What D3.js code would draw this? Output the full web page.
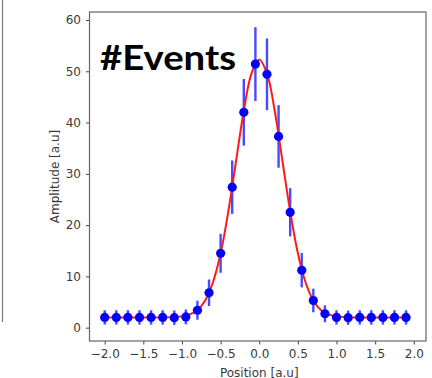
<!DOCTYPE html>
<html>
<head>
<meta charset="utf-8">
<script src="https://cdn.jsdelivr.net/npm/d3@7"></script>
<style>
  body { margin: 0; background: #fff; }
  svg { display: block; }
</style>
</head>
<body>
<div id="chart"></div>
<script>
// measured points
const positions = [-2.0, -1.85, -1.7, -1.55, -1.4, -1.25, -1.1, -0.95, -0.8, -0.65, -0.5, -0.35, -0.2, -0.05,
  0.1, 0.25, 0.4, 0.55, 0.7, 0.85, 1.0, 1.15, 1.3, 1.45, 1.6, 1.75, 1.9];
const amplitudes = [2.0, 2.0, 2.0, 2.0, 2.0, 2.0, 1.95, 2.1, 3.4, 6.8, 14.5, 27.4, 42.0, 51.4,
  49.4, 37.3, 22.5, 11.2, 5.3, 2.7, 2.0, 1.95, 2.0, 2.0, 2.0, 2.0, 2.0];
const errors = [1.4, 1.4, 1.4, 1.4, 1.4, 1.4, 1.4, 1.45, 1.85, 2.6, 3.8, 5.2, 6.5, 7.2,
  7.0, 6.1, 4.7, 3.35, 2.3, 1.65, 1.4, 1.4, 1.4, 1.4, 1.4, 1.4, 1.4];

// fitted curve
const fitX = [-2.0, -1.5, -1.2, -1.0, -0.9, -0.8, -0.7, -0.6, -0.5, -0.4, -0.3, -0.2, -0.1, 0.0,
  0.1, 0.2, 0.3, 0.4, 0.5, 0.6, 0.7, 0.8, 0.9, 1.0, 1.2, 1.5, 1.9];
const fitY = [2.0, 2.0, 2.0, 2.2, 2.6, 3.4, 5.3, 8.8, 14.5, 22.7, 32.5, 42.3, 49.6, 52.3,
  49.6, 42.3, 32.5, 22.7, 14.5, 8.8, 5.3, 3.4, 2.6, 2.2, 2.0, 2.0, 2.0];

const xTicks = [-2.0, -1.5, -1.0, -0.5, 0.0, 0.5, 1.0, 1.5, 2.0];
const yTicks = [0, 10, 20, 30, 40, 50, 60];

const margin = { top: 12, right: 6, bottom: 37, left: 89.5 };
const width = 432 - margin.left - margin.right;
const height = 378 - margin.top - margin.bottom;

const root = d3.select("#chart")
  .append("svg")
  .attr("width", 432)
  .attr("height", 378)
  .style("font-family", "DejaVu Sans, sans-serif");

// bit of a neighbouring panel cut off on the left
root.append("line")
  .attr("x1", 2.5).attr("x2", 2.5)
  .attr("y1", 0).attr("y2", 322)
  .attr("stroke", "#777")
  .attr("stroke-width", 1.2);

const svg = root.append("g")
  .attr("transform", "translate(" + margin.left + "," + margin.top + ")");

const xScale = d3.scaleLinear()
  .domain([-2.197, 2.158])
  .range([0, width]);

const yScale = d3.scaleLinear()
  .domain([-2.6, 61.56])
  .range([height, 0]);

// axes
const xAxis = svg.append("g")
  .attr("transform", "translate(0," + height + ")")
  .call(d3.axisBottom(xScale).tickValues(xTicks).tickFormat(d3.format(".1f")).tickSize(3.5).tickPadding(4.5));

const yAxis = svg.append("g")
  .call(d3.axisLeft(yScale).tickValues(yTicks).tickSize(3.5).tickPadding(5));

[xAxis, yAxis].forEach(a => {
  a.select(".domain").remove();
  a.selectAll("line").attr("stroke", "#444");
  a.selectAll("text")
    .attr("fill", "#3a3a3a")
    .style("font-size", "12px")
    .style("font-family", "DejaVu Sans, sans-serif");
});
xAxis.selectAll("text").text(d => d3.format(".1f")(d).replace("-", "\u2212"));

// frame
svg.append("rect")
  .attr("width", width)
  .attr("height", height)
  .attr("fill", "none")
  .attr("stroke", "#666")
  .attr("stroke-width", 1.2);

// error bars
svg.selectAll(".err")
  .data(positions)
  .enter()
  .append("line")
  .attr("class", "err")
  .attr("x1", d => xScale(d))
  .attr("x2", d => xScale(d))
  .attr("y1", (d, i) => yScale(amplitudes[i] - errors[i]))
  .attr("y2", (d, i) => yScale(amplitudes[i] + errors[i]))
  .attr("stroke", "#4a4aff")
  .attr("stroke-width", 2.4);

// fit curve
const line = d3.line()
  .x((d, i) => xScale(fitX[i]))
  .y(d => yScale(d))
  .curve(d3.curveCatmullRom.alpha(0.5));

svg.append("path")
  .datum(fitY)
  .attr("d", line)
  .attr("fill", "none")
  .attr("stroke", "#ff1a1a")
  .attr("stroke-width", 2);

// points
svg.selectAll(".pt")
  .data(positions)
  .enter()
  .append("circle")
  .attr("class", "pt")
  .attr("cx", d => xScale(d))
  .attr("cy", (d, i) => yScale(amplitudes[i]))
  .attr("r", 4.6)
  .attr("fill", "#0000ff");

// labels
svg.append("text")
  .attr("x", xScale(0))
  .attr("y", height + 35.5)
  .attr("text-anchor", "middle")
  .attr("fill", "#3a3a3a")
  .style("font-size", "12px")
  .text("Position [a.u]");

svg.append("text")
  .attr("transform", "rotate(-90)")
  .attr("x", -height / 2)
  .attr("y", -30.5)
  .attr("text-anchor", "middle")
  .attr("fill", "#3a3a3a")
  .style("font-size", "12px")
  .text("Amplitude [a.u]");

svg.append("text")
  .attr("x", 10.5)
  .attr("y", 58)
  .attr("fill", "#000")
  .attr("textLength", 136)
  .attr("lengthAdjust", "spacingAndGlyphs")
  .style("font-family", "Lato, sans-serif")
  .style("font-weight", "bold")
  .style("font-size", "35px")
  .text("#Events");
</script>
</body>
</html>
